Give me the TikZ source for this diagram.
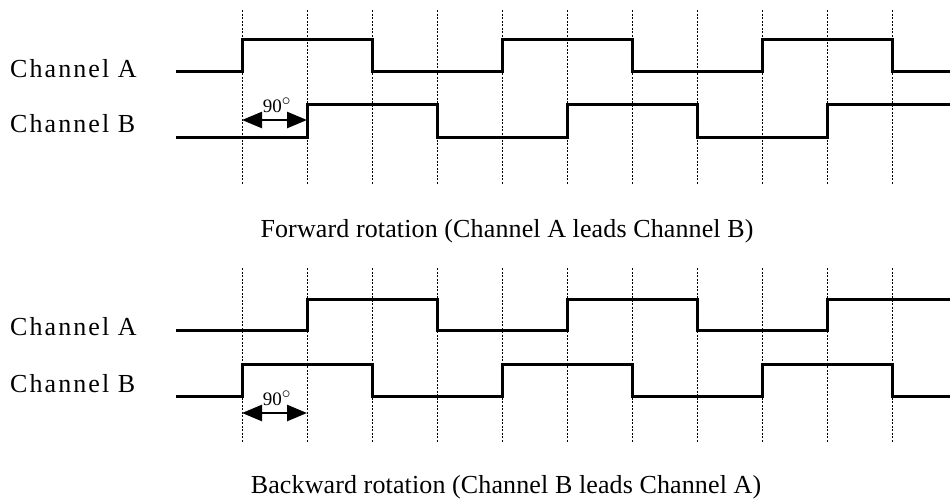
\documentclass[tikz,border=0pt]{standalone}
\usepackage{fontspec}
\setmainfont{Liberation Serif}
\newfontfamily\chfont[LetterSpace=8]{Liberation Serif}
\newfontfamily\capfont[LetterSpace=0.5]{Liberation Serif}
\usetikzlibrary{arrows.meta}

\tikzset{
  wave/.style={black, line width=3pt},
  tick line/.style={black, line width=1pt, dash pattern=on 2pt off 1.5pt},
  phase/.style={black, line width=2.5pt,
    {Triangle[length=20pt,width=16pt]}-{Triangle[length=20pt,width=16pt]}},
  chname/.style={anchor=base west, font=\fontsize{26}{30}\chfont},
  caption/.style={anchor=base, font=\fontsize{26}{30}\capfont},
  angle/.style={anchor=base, font=\fontsize{19}{22}\selectfont},
}

\begin{document}
\begin{tikzpicture}[x=1pt,y=-1pt,every node/.style={text=black,inner sep=0pt}]
    \useasboundingbox (0,0) rectangle (950,501);
    % timing marks
    \foreach \i in {0,...,10} {
      \draw[tick line] (242+65*\i,10) -- (242+65*\i,185);
      \draw[tick line] (242+65*\i,268) -- (242+65*\i,443);
    }
    % forward rotation
    \node[chname] (fa) at (10,77) {Channel A};
    \node[chname] (fb) at (10,132) {Channel B};
    \draw[wave] (176,71) -| (242,39) -| (372,71) -| (502,39) -| (632,71)
      -| (762,39) -| (892,71) -- (950,71);
    \draw[wave] (176,137) -| (307,104) -| (437,137) -| (567,104) -| (697,137)
      -| (827,104) -- (950,104);
    \coordinate (f1) at (242,120);
    \coordinate (f2) at (307,120);
    \draw[phase] (f1) -- (f2);
    \node[angle] (fdeg) at (277,112) {90$^{\textstyle\circ}$};
    \node[caption] (fcap) at (507,237) {Forward rotation (Channel A leads Channel B)};
    % backward rotation
    \node[chname] (ba) at (10,335) {Channel A};
    \node[chname] (bb) at (10,392) {Channel B};
    \draw[wave] (176,330) -| (307,299) -| (437,330) -| (567,299) -| (697,330)
      -| (827,299) -- (950,299);
    \draw[wave] (176,396) -| (242,364) -| (372,396) -| (502,364) -| (632,396)
      -| (762,364) -| (892,396) -- (950,396);
    \coordinate (b1) at (242,413);
    \coordinate (b2) at (307,413);
    \draw[phase] (b1) -- (b2);
    \node[angle] (bdeg) at (277,405) {90$^{\textstyle\circ}$};
    \node[caption] (bcap) at (506,493) {Backward rotation (Channel B leads Channel A)};
  \end{tikzpicture}
\end{document}
